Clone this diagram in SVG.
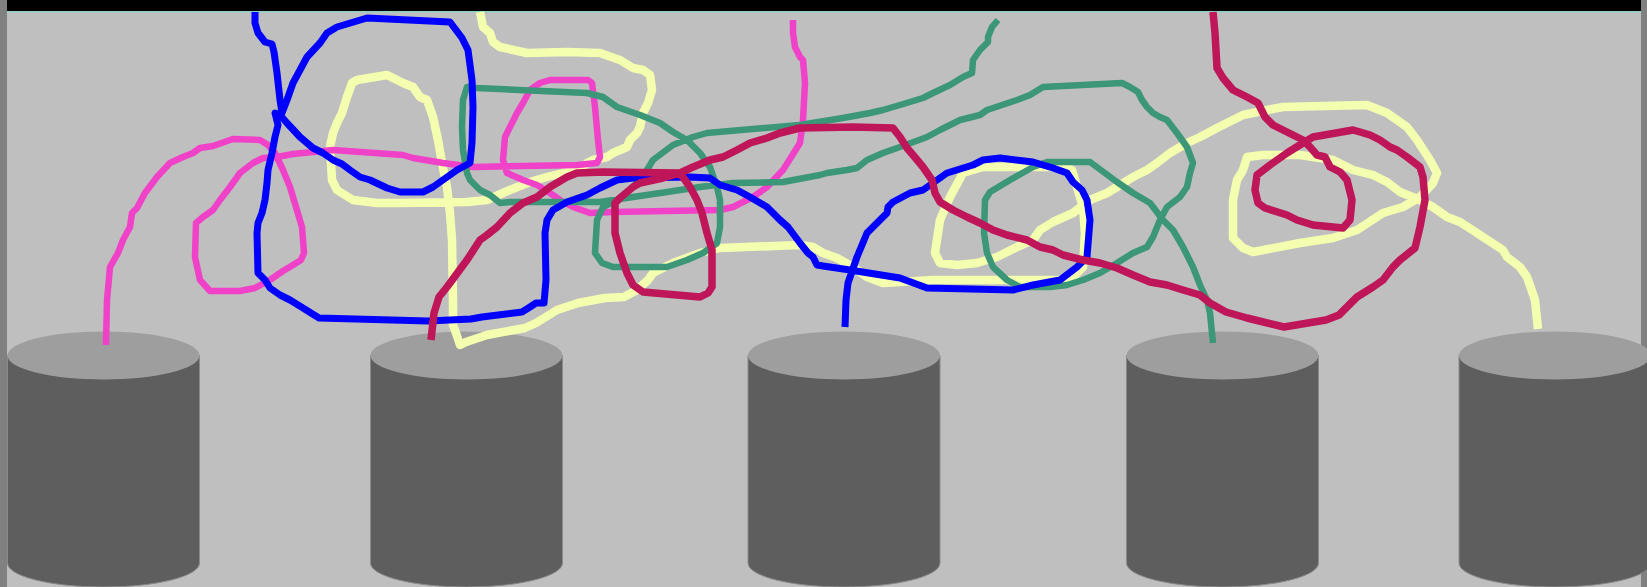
<svg xmlns="http://www.w3.org/2000/svg" width="1647" height="587" viewBox="0 0 1647 587">
<style>
.ln{fill:none;stroke-linejoin:round;stroke-linecap:butt}
.top{fill:#9e9e9e}
.body{fill:#5e5e5e;stroke:#8a8a8a;stroke-width:1}
</style>
<defs>
<g id="cyl">
<path class="body" d="M-96,355.5 L-96,563 A96,24 0 0 0 96,563 L96,355.5 Z"/>
<ellipse class="top" cx="0" cy="355.5" rx="96" ry="24"/>
</g>
</defs>
<rect x="0" y="0" width="1647" height="587" fill="#bfbfbf"/>
<rect x="0" y="0" width="7" height="587" fill="#808080"/>
<rect x="1641" y="0" width="6" height="587" fill="#808080"/>
<rect x="7" y="0" width="1634" height="11" fill="#000000"/>
<rect x="7" y="11" width="1634" height="1.5" fill="#8fd0c4"/>
<g id="cylinders">
<use id="cyl1" href="#cyl" x="103.5"/>
<use id="cyl2" href="#cyl" x="466.5"/>
<use id="cyl3" href="#cyl" x="844"/>
<use id="cyl4" href="#cyl" x="1222.5"/>
<use id="cyl5" href="#cyl" x="1555"/>
</g>
<g id="connectors">
<path id="yellow" class="ln" stroke="#f5ffb0" stroke-width="8.5" d="M480,12 L483,27 L490,33 L493,42 L500,47 L527,53 L567,52 L600,53 L620,60 L633,68 L643,70 L650,75 L652,90 L648,103 L643,113 L640,127 L637,133 L630,140 L627,147 L613,153 L607,157 L593,160 L587,163 L580,170 L563,173 L547,177 L530,182 L510,190 L503,193 L487,200 L467,202 L400,203 L377,203 L353,200 L337,190 L332,180 L330,147 L333,133 L337,123 L342,113 L347,97 L352,83 L357,80 L387,75 L397,80 L403,83 L413,87 L420,97 L427,100 L433,117 L438,140 L442,163 L447,187 L450,213 L452,240 L453,300 L453,325 L456,333 L460,345 L466,342 L487,335 L525,328 L536,323 L557,310 L578,303 L605,298 L624,297 L637,290 L648,280 L653,273 L673,263 L700,253 L720,248 L800,245 L813,247 L823,253 L837,258 L853,267 L867,277 L883,283 L933,280 L1060,280 L1073,277 L1083,267 L1085,233 L1083,207 L1077,187 L1072,170 L1063,167 L983,167 L963,173 L950,197 L940,220 L935,253 L940,263 L957,265 L977,263 L997,257 L1017,247 L1033,240 L1040,230 L1053,222 L1073,213 L1090,200 L1107,193 L1117,187 L1133,177 L1147,170 L1157,163 L1170,153 L1187,143 L1200,137 L1217,128 L1233,120 L1243,115 L1267,110 L1283,107 L1367,105 L1387,113 L1407,127 L1417,140 L1430,160 L1437,173 L1433,183 L1420,197 L1403,207 L1383,213 L1357,230 L1333,238 L1300,243 L1253,252 L1243,248 L1233,238 L1233,200 L1237,180 L1243,170 L1247,157 L1263,155 L1300,155 L1333,160 L1353,170 L1373,175 L1387,182 L1400,192 L1420,200 L1433,207 L1447,217 L1460,222 L1477,233 L1483,237 L1503,250 L1507,257 L1520,267 L1527,277 L1535,300 L1538,329"/>
<path id="pink" class="ln" stroke="#f042c8" stroke-width="6.5" d="M106,345 L107,300 L110,267 L118,253 L123,240 L130,227 L132,213 L137,208 L145,193 L157,177 L170,163 L183,157 L193,153 L200,148 L213,146 L233,139 L260,140 L268,145 L275,153 L283,170 L290,187 L296,207 L302,227 L304,253 L301,260 L293,265 L283,271 L270,280 L255,288 L240,291 L210,291 L200,280 L195,257 L196,223 L203,217 L213,210 L220,200 L230,187 L240,173 L253,163 L263,158 L277,157 L293,154 L313,152 L333,150 L403,155 L413,158 L443,163 L473,167 L577,165 L597,163 L600,157 L598,140 L595,107 L592,83 L588,80 L550,80 L540,83 L530,90 L523,103 L517,113 L505,137 L503,160 L507,173 L523,180 L537,185 L550,193 L560,200 L573,207 L590,213 L613,212 L720,210 L733,207 L753,197 L767,187 L783,170 L800,143 L803,120 L805,83 L803,60 L800,57 L795,47 L793,33 L793,20"/>
<path id="teal" class="ln" stroke="#3c9678" stroke-width="6.5" d="M998,20 L992,27 L988,37 L988,42 L980,50 L973,60 L972,73 L963,77 L950,85 L933,93 L923,98 L900,105 L883,110 L870,113 L843,118 L800,125 L707,133 L693,137 L673,145 L653,160 L647,170 L633,187 L617,200 L603,207 L597,220 L595,253 L602,263 L613,267 L667,267 L687,260 L703,253 L717,243 L720,227 L720,200 L717,187 L710,167 L700,153 L687,140 L673,132 L660,123 L640,115 L617,107 L603,97 L587,93 L477,88 L467,87 L463,100 L462,127 L463,150 L467,173 L470,180 L480,190 L490,195 L500,203 L510,202 L600,202 L633,197 L667,192 L700,187 L733,183 L783,182 L820,175 L827,173 L847,170 L857,168 L867,160 L883,153 L900,147 L927,137 L940,130 L960,120 L980,115 L987,110 L1017,100 L1030,95 L1043,87 L1122,83 L1130,87 L1138,92 L1142,100 L1147,107 L1153,113 L1160,117 L1167,120 L1177,133 L1187,147 L1193,163 L1190,173 L1187,187 L1180,197 L1167,207 L1160,220 L1153,237 L1147,247 L1133,253 L1117,263 L1100,273 L1083,280 L1067,285 L1050,287 L1020,287 L1007,280 L993,267 L987,253 L984,233 L985,200 L990,192 L1010,180 L1033,167 L1047,162 L1090,162 L1117,182 L1133,193 L1150,203 L1163,220 L1173,230 L1183,247 L1193,267 L1200,285 L1207,300 L1210,313 L1213,343"/>
<path id="blue" class="ln" stroke="#0000ff" stroke-width="7" d="M255,12 L255,23 L258,33 L265,42 L272,44 L274,52 L277,73 L280,100 L282,113 L287,100 L293,83 L307,57 L320,43 L327,33 L337,27 L367,18 L450,22 L462,38 L468,50 L472,80 L473,107 L472,143 L470,163 L457,170 L433,187 L423,192 L400,192 L387,188 L370,180 L360,177 L350,170 L342,164 L333,160 L323,153 L313,148 L300,137 L287,123 L280,115 L275,113 L278,125 L275,137 L272,153 L268,170 L267,183 L265,200 L262,213 L258,223 L257,233 L258,273 L265,280 L270,288 L280,295 L290,300 L303,308 L319,318 L428,321 L471,319 L482,317 L522,312 L530,307 L536,303 L544,303 L546,280 L545,233 L547,220 L553,210 L567,202 L587,195 L600,188 L617,180 L633,178 L690,177 L710,178 L720,185 L737,190 L750,197 L767,207 L780,220 L788,227 L800,243 L808,253 L813,257 L817,265 L823,266 L850,270 L900,278 L927,288 L1013,290 L1033,285 L1060,280 L1077,267 L1087,257 L1090,220 L1087,200 L1082,190 L1073,182 L1067,173 L1053,168 L1033,162 L1000,158 L983,160 L973,165 L947,173 L923,190 L910,193 L893,202 L888,207 L887,213 L877,223 L867,233 L857,257 L848,283 L846,300 L845,327"/>
<path id="crimson" class="ln" stroke="#be1658" stroke-width="7.5" d="M1213,12 L1215,33 L1217,68 L1223,78 L1233,90 L1247,97 L1258,103 L1265,117 L1273,125 L1287,132 L1303,140 L1310,147 L1317,155 L1325,157 L1330,167 L1340,172 L1347,180 L1352,200 L1350,220 L1343,228 L1313,225 L1297,220 L1287,215 L1265,208 L1258,203 L1255,190 L1257,175 L1270,165 L1287,153 L1303,143 L1313,137 L1353,130 L1360,132 L1370,135 L1380,140 L1390,147 L1397,150 L1407,157 L1420,167 L1423,177 L1425,200 L1420,227 L1415,248 L1400,260 L1393,267 L1383,280 L1373,287 L1357,297 L1347,307 L1339,315 L1326,320 L1284,327 L1247,318 L1226,312 L1210,303 L1200,295 L1183,290 L1167,285 L1150,282 L1133,275 L1117,268 L1100,263 L1083,260 L1063,255 L1053,250 L1040,247 L1027,240 L1007,235 L993,230 L980,223 L967,217 L953,210 L940,202 L935,193 L932,180 L923,167 L913,155 L907,148 L900,137 L893,128 L853,127 L800,128 L780,133 L767,138 L750,143 L737,150 L723,157 L710,160 L693,167 L680,173 L663,178 L640,183 L633,187 L620,198 L615,203 L615,233 L620,253 L627,273 L633,285 L643,292 L677,295 L700,297 L708,293 L712,287 L712,250 L707,233 L702,213 L697,200 L690,187 L680,173 L603,172 L577,173 L567,177 L550,187 L537,197 L523,203 L510,213 L497,227 L487,235 L480,240 L467,260 L450,283 L447,287 L439,297 L434,313 L431,340"/>
</g>
</svg>
